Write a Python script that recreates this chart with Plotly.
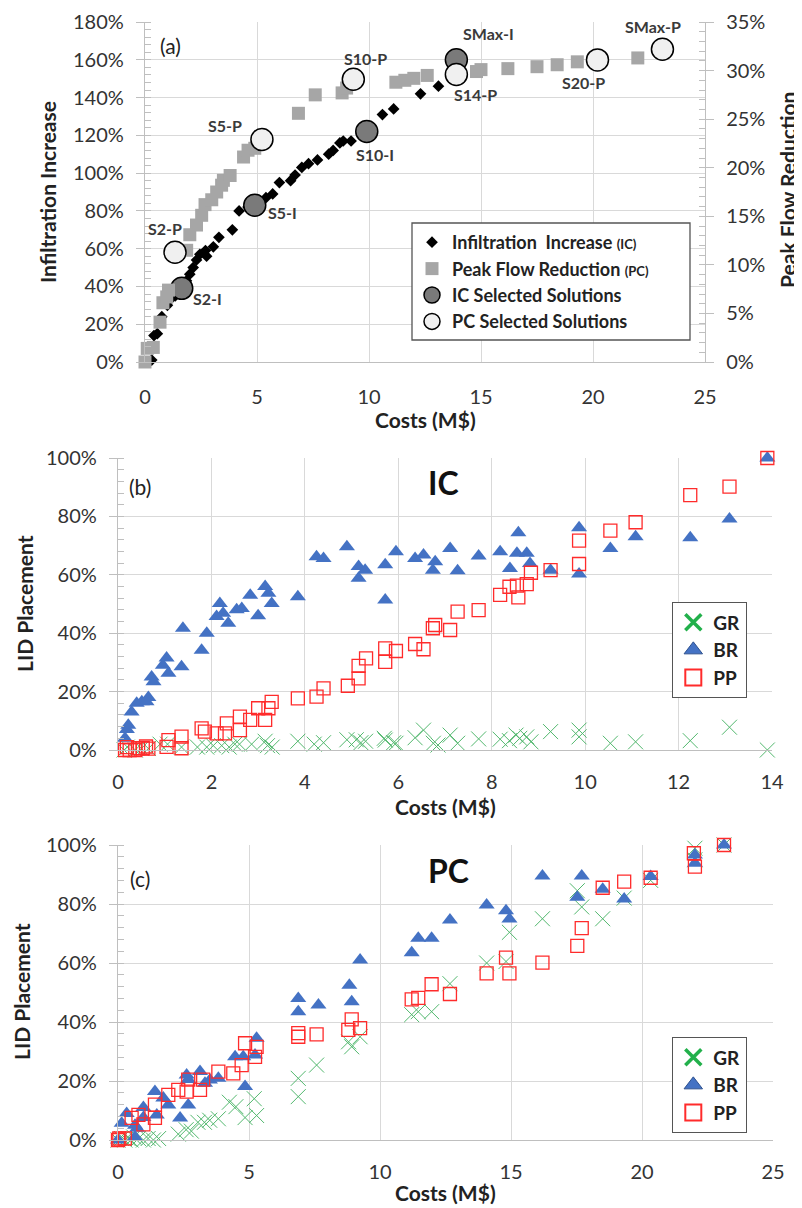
import plotly.graph_objects as go

# page body has an 8px margin: draw into the remaining area
OFF = 8
W, H = 802, 1208
FW, FH = W - OFF, H - OFF

# ---------------- Panel (a) data ----------------
ic_cost = [0.3, 0.4, 0.55, 0.75, 1.0, 1.2, 1.35, 1.7, 1.85, 2.0, 2.15, 2.3, 2.45, 2.7, 2.75, 3.05, 3.3,
           3.9, 4.2, 4.6, 5.4, 5.7, 6.0, 6.5, 6.7, 7.0, 7.3, 7.7, 8.2, 8.4, 8.7, 8.85, 9.2, 10.6, 11.1,
           12.3, 13.1]
ic_infil = [1, 14, 15, 24, 30, 34, 35, 41, 43, 46.5, 50, 54, 57, 59, 56, 61, 66,
            70, 80, 82, 87, 89, 95, 96, 99, 103, 105, 107, 110, 112, 116, 117, 117, 131, 134,
            142, 146]
pc_cost = [0.0, 0.1, 0.37, 0.67, 0.8, 0.97, 1.05, 1.86, 2.0, 2.3, 2.53, 2.68, 2.98, 3.2, 3.42, 3.5,
           3.8, 4.4, 4.6, 4.9, 6.85, 7.6, 8.8, 9.0, 11.2, 11.6, 12.0, 12.6, 14.8, 15.0, 16.2, 17.5,
           18.4, 19.3, 22.0]
pc_peak = [0.0, 1.4, 1.5, 4.1, 6.1, 6.7, 7.4, 11.5, 13.1, 14.1, 15.1, 16.2, 16.7, 17.5, 18.2, 18.7,
           19.2, 21.1, 21.8, 22.0, 25.6, 27.5, 27.7, 28.2, 28.8, 29.0, 29.2, 29.5, 29.9, 30.1, 30.2, 30.4,
           30.6, 30.9, 31.3]
ic_sel_names = ["S2-I", "S5-I", "S10-I", "SMax-I"]
ic_sel_cost = [1.64, 4.9, 9.9, 13.9]
ic_sel_infil = [39, 83, 122, 160]
pc_sel_names = ["S2-P", "S5-P", "S10-P", "S14-P", "S20-P", "SMax-P"]
pc_sel_cost = [1.34, 5.22, 9.3, 13.9, 20.2, 23.1]
pc_sel_peak = [11.3, 22.9, 29.1, 29.6, 31.1, 32.2]

# ---------------- Panel (b) IC data ----------------
b_br_cost = [0.15, 0.19, 0.22, 0.29, 0.4, 0.51, 0.61, 0.65, 0.72, 0.76, 0.96, 1.04, 1.08, 1.36, 1.39,
             1.79, 1.9, 2.11, 2.18, 2.25, 2.36, 2.54, 2.65, 2.83, 3.0, 3.15, 3.22, 3.29, 3.85, 4.25,
             4.4, 4.9, 5.15, 5.29, 5.15, 5.72, 5.72, 5.95, 6.36, 6.54, 6.79, 6.74, 7.11, 7.27, 7.72,
             8.18, 8.39, 8.57, 8.54, 8.75, 8.82, 9.26, 9.87, 9.87, 10.54, 11.08, 12.25, 13.09, 13.9]
b_br = [4, 7, 8.5, 13, 16, 16.5, 16.5, 18, 25, 23.4, 29, 31.5, 26.3, 28.5, 41.7,
        34.2, 40, 45.7, 50.2, 46.8, 43.4, 48, 48.5, 53, 46, 56, 53.7, 50.2, 52.5, 66.2,
        65.6, 69.6, 62.8, 61.6, 58.8, 63.4, 51.4, 67.9, 65.6, 66.8, 64.5, 61.6, 69, 61.4, 66.4,
        67.9, 62.2, 74.4, 67.4, 67.4, 63.9, 61.6, 76.1, 60.3, 69, 73, 72.7, 79.1, 100]
b_pp_cost = [0.15, 0.19, 0.25, 0.37, 0.43, 0.53, 0.6, 0.65, 1.04, 1.08, 1.36, 1.36, 1.79, 1.86, 2.11,
             2.29, 2.33, 2.61, 2.61, 2.83, 3.0, 3.15, 3.22, 3.29, 3.85, 4.25, 4.4, 4.92, 5.15, 5.15,
             5.31, 5.72, 5.72, 5.95, 6.36, 6.54, 6.74, 6.79, 7.11, 7.27, 7.72, 8.18, 8.38, 8.54, 8.57,
             8.75, 8.84, 9.26, 9.87, 9.87, 10.54, 11.08, 12.25, 13.09, 13.9]
b_pp = [0, 1, 0, 0, 0.6, 0.6, 1.2, 0.5, 1.1, 3.4, 4.6, 0.6, 7.4, 6.3, 5.7,
        5.7, 9.1, 11.4, 6.8, 10.3, 14.3, 10.3, 14.3, 16.5, 17.7, 18.3, 21.1, 22, 24.5, 28.8,
        31.4, 30.2, 34.8, 33.9, 36.3, 34.5, 41.7, 42.8, 41.1, 47.4, 47.9, 53.1, 55.9, 56.3, 52.3,
        56.8, 60.7, 61.6, 71.7, 63.7, 75.1, 78, 87.3, 90.2, 100]
b_gr_cost = [0.13, 0.2, 0.37, 0.5, 0.65, 0.9, 1.06, 1.36, 1.7, 1.9, 2.04, 2.22, 2.38, 2.5, 2.6, 2.86,
             3.15, 3.2, 3.3, 3.85, 4.2, 4.4, 4.9, 5.1, 5.2, 5.3, 5.7, 5.9, 5.72, 5.95, 6.36, 6.54,
             6.75, 6.85, 7.11, 7.27, 7.72, 8.18, 8.38, 8.52, 8.6, 8.75, 8.84, 9.26, 9.87, 9.87, 10.54,
             11.08, 12.25, 13.09, 13.9]
b_gr = [0, 1, 0, 0.5, 0.5, 2, 2, 1, 1, 1, 1.5, 1.5, 1, 2, 2, 2,
        3, 1.5, 1, 3, 2, 2.5, 3.5, 3.5, 2.5, 3, 4, 2.5, 3.4, 2.3, 4.2, 6.8,
        2.3, 1.7, 5.1, 2.3, 3.8, 3.7, 3.2, 5.1, 4, 4.5, 2.8, 6.3, 6.8, 4.5, 2.3,
        2.8, 3.2, 7.8, 0]

# ---------------- Panel (c) PC data ----------------
c_br_cost = [0, 0.14, 0.33, 0.65, 0.65, 0.97, 0.97, 0.73, 1.41, 1.48, 1.73, 1.92, 2.37, 2.62, 2.68,
             2.68, 3.13, 3.32, 3.51, 3.83, 4.47, 4.78, 4.85, 5.23, 5.29, 6.88, 6.88, 7.65, 8.83, 8.92,
             9.24, 11.21, 11.46, 11.97, 12.67, 14.07, 14.81, 14.94, 16.2, 17.53, 17.7, 18.5, 19.32,
             20.33, 22.02, 22.02, 23.13]
c_br = [0, 5.7, 9, 5, 1, 11, 7.6, 4, 16.4, 8.5, 14.2, 11.9, 7.5, 22, 20.5,
        11.9, 23.2, 19.2, 20.3, 20.9, 28.2, 28.2, 18.1, 28.8, 34.5, 48, 43.5, 45.8, 52.5, 46.9,
        61, 63.5, 68.4, 68.4, 74.6, 79.7, 77.7, 74.9, 89.5, 82.3, 89.5, 85, 81.7,
        89.3, 96.6, 93.8, 100]
c_pp_cost = [0, 0.05, 0.26, 0.52, 0.78, 0.97, 1.41, 1.41, 1.92, 2.3, 2.62, 2.68, 3.13, 3.25, 3.83,
             4.4, 4.72, 4.85, 5.23, 5.29, 6.88, 6.88, 7.58, 8.79, 8.92, 9.24, 11.21, 11.46, 11.97,
             12.67, 14.07, 14.81, 14.94, 16.2, 17.53, 17.7, 18.5, 19.32, 20.33, 21.98, 22.02, 23.13]
c_pp = [0, 0.5, 0.5, 7.5, 8.5, 5.3, 7.5, 12, 15.3, 17, 16.4, 20.5, 17, 20.5, 23.2,
        22.6, 25.4, 32.8, 28.2, 31.6, 36.2, 35, 35.8, 37.3, 40.9, 37.9, 47.7, 48.2, 52.8,
        49.5, 56.5, 61.8, 56.5, 60.1, 65.8, 71.8, 85.5, 87.6, 88.9, 97.2, 92.7, 100]
c_gr_cost = [0, 0.13, 0.26, 0.39, 0.5, 0.6, 0.78, 0.97, 1.15, 1.35, 1.55, 2.3, 2.6, 2.8, 3.05, 3.3,
             3.5, 3.83, 4.25, 4.5, 4.85, 5.2, 5.29, 6.88, 6.88, 7.58, 8.8, 8.92, 9.24, 11.21, 11.46,
             11.97, 12.67, 14.07, 14.81, 14.94, 16.2, 17.53, 17.7, 18.5, 19.32, 20.33, 22.02, 22.02,
             23.13]
c_gr = [0, 0.5, 0, 0.5, 0, 1, 0.5, 0, 0.5, 0, 0.5, 2, 3.5, 3, 6, 6,
        6.7, 7.2, 12.8, 11.3, 7.6, 14, 8.3, 20.9, 14.7, 25.4, 33.3, 31.6, 35, 42.5, 43.5,
        43.5, 53, 60, 60.5, 70.4, 75, 84.5, 79, 75, 82, 88, 98.9, 95,
        100]

# ---------------- styling ----------------
FONT = "Lato"
TXT = "#333333"
GRID = "#d9d9d9"
AXL = "#bfbfbf"
GREEN = "#52b86e"
BLUE = "#4472c4"
RED = "#ff2b2b"

fig = go.Figure()

# Panel (a)
fig.add_trace(go.Scatter(x=ic_cost, y=ic_infil, mode="markers", xaxis="x", yaxis="y",
                         name="Infiltration  Increase <span style='font-size:13px'>(IC)</span>",
                         marker=dict(symbol="diamond", size=9, color="black"),
                         cliponaxis=False, legend="legend"))
fig.add_trace(go.Scatter(x=pc_cost, y=pc_peak, mode="markers", xaxis="x", yaxis="y2",
                         name="Peak Flow Reduction <span style='font-size:13px'>(PC)</span>",
                         marker=dict(symbol="square", size=13, color="#a6a6a6"),
                         cliponaxis=False, legend="legend"))
fig.add_trace(go.Scatter(x=ic_sel_cost, y=ic_sel_infil, mode="markers", xaxis="x", yaxis="y",
                         name="IC Selected Solutions",
                         marker=dict(symbol="circle", size=22, color="#7a7a7a",
                                     line=dict(color="black", width=1.5)),
                         cliponaxis=False, legend="legend"))
fig.add_trace(go.Scatter(x=pc_sel_cost, y=pc_sel_peak, mode="markers", xaxis="x", yaxis="y2",
                         name="PC Selected Solutions",
                         marker=dict(symbol="circle", size=22, color="#f0f0f0",
                                     line=dict(color="black", width=1.5)),
                         cliponaxis=False, legend="legend"))


def lid_traces(xa, ya, leg, gx, gy, bx, by, px, py):
    fig.add_trace(go.Scatter(x=gx, y=gy, mode="markers", xaxis=xa, yaxis=ya, showlegend=False,
                             marker=dict(symbol="x-thin-open", size=15, color=GREEN,
                                         line=dict(color=GREEN, width=1)), cliponaxis=False))
    fig.add_trace(go.Scatter(x=bx, y=by, mode="markers", xaxis=xa, yaxis=ya, showlegend=False,
                             marker=dict(symbol="triangle-up", size=14, color=BLUE), cliponaxis=False))
    fig.add_trace(go.Scatter(x=px, y=py, mode="markers", xaxis=xa, yaxis=ya, showlegend=False,
                             marker=dict(symbol="square-open", size=13, color=RED,
                                         line=dict(color=RED, width=1.3)), cliponaxis=False))
    # legend entries
    fig.add_trace(go.Scatter(x=[None], y=[None], mode="markers", xaxis=xa, yaxis=ya, name="GR",
                             legend=leg, marker=dict(symbol="x-thin-open", size=16, color="#22b04b",
                                                     line=dict(color="#22b04b", width=3.5))))
    fig.add_trace(go.Scatter(x=[None], y=[None], mode="markers", xaxis=xa, yaxis=ya, name="BR",
                             legend=leg, marker=dict(symbol="triangle-up", size=18, color=BLUE,
                                                     line=dict(color="#2f528f", width=1))))
    fig.add_trace(go.Scatter(x=[None], y=[None], mode="markers", xaxis=xa, yaxis=ya, name="PP",
                             legend=leg, marker=dict(symbol="square-open", size=16, color=RED,
                                                     line=dict(color=RED, width=2))))


lid_traces("x2", "y3", "legend2", b_gr_cost, b_gr, b_br_cost, b_br, b_pp_cost, b_pp)
lid_traces("x3", "y4", "legend3", c_gr_cost, c_gr, c_br_cost, c_br, c_pp_cost, c_pp)


def px2x(p):
    return (p - OFF) / FW


def px2y(p):
    return 1 - (p - OFF) / FH


tickfont = dict(family=FONT, size=20, color=TXT)

common_x = dict(showgrid=True, gridcolor=GRID, gridwidth=1.3, showline=True, linecolor=AXL,
                linewidth=1.3, zeroline=False, ticks="", tickfont=tickfont, ticklabelstandoff=14,
                automargin=False)
common_y = dict(showgrid=True, gridcolor=GRID, gridwidth=1.3, showline=True, linecolor=AXL,
                linewidth=1.3, zeroline=False, ticks="outside", ticklen=8, tickcolor=AXL,
                tickwidth=1.3, tickfont=tickfont, ticksuffix="%", ticklabelstandoff=8,
                automargin=False)

layout = dict(
    template="none",
    width=FW, height=FH, margin=dict(l=0, r=0, t=0, b=0, pad=0, autoexpand=False),
    paper_bgcolor="white", plot_bgcolor="white",
    font=dict(family=FONT, color=TXT),
    xaxis=dict(common_x, domain=[px2x(145), px2x(705)], range=[0, 25], dtick=5, anchor="y",
               ticklabelstandoff=17),
    yaxis=dict(common_y, domain=[px2y(362), px2y(22)], range=[0, 180], dtick=20, anchor="x",
               minor=dict(dtick=4, ticks="inside", ticklen=6, tickcolor=AXL, showgrid=False)),
    yaxis2=dict(common_y, showgrid=False, range=[0, 35], dtick=5, overlaying="y", side="right",
                anchor="x",
                minor=dict(dtick=1, ticks="inside", ticklen=6, tickcolor=AXL, showgrid=False)),
    xaxis2=dict(common_x, domain=[px2x(118), px2x(772)], range=[0, 14], dtick=2, anchor="y3"),
    yaxis3=dict(common_y, domain=[px2y(750), px2y(458)], range=[0, 100], dtick=20, anchor="x2",
                minor=dict(dtick=4, ticks="inside", ticklen=6, tickcolor=AXL, showgrid=False)),
    xaxis3=dict(common_x, domain=[px2x(118), px2x(773)], range=[0, 25], dtick=5, anchor="y4"),
    yaxis4=dict(common_y, domain=[px2y(1140), px2y(845)], range=[0, 100], dtick=20, anchor="x3",
                minor=dict(dtick=4, ticks="inside", ticklen=6, tickcolor=AXL, showgrid=False)),
    legend=dict(x=px2x(412), y=px2y(224), xanchor="left", yanchor="top",
                bgcolor="rgba(0,0,0,0)", borderwidth=0,
                font=dict(family=FONT, size=18, color="#222", weight=700), tracegroupgap=0),
    legend2=dict(x=px2x(672), y=px2y(602), xanchor="left", yanchor="top", bgcolor="white",
                 bordercolor="#555", borderwidth=1.3,
                 font=dict(family=FONT, size=19, color="#222", weight=700)),
    legend3=dict(x=px2x(672), y=px2y(1037), xanchor="left", yanchor="top", bgcolor="white",
                 bordercolor="#555", borderwidth=1.3,
                 font=dict(family=FONT, size=19, color="#222", weight=700)),
    shapes=[dict(type="rect", xref="paper", yref="paper", x0=px2x(412), x1=px2x(690),
                 y0=px2y(340), y1=px2y(223), fillcolor="white",
                 line=dict(color="#555", width=1.3), layer="above")],
)
fig.update_layout(**layout)

ann = []
title_font = dict(family=FONT, size=21, color="#222", weight=700)


def paper_text(text, x, y, font, angle=0):
    ann.append(dict(text=text, x=px2x(x), y=px2y(y), xref="paper", yref="paper",
                    showarrow=False, font=font, textangle=angle, xanchor="center", yanchor="middle"))


paper_text("Infiltration Increase", 47, 192, title_font, -90)
paper_text("Peak Flow Reduction", 788, 190, title_font, -90)
paper_text("Costs (M$)", 425, 420, title_font)
paper_text("LID Placement", 25, 604, title_font, -90)
paper_text("Costs (M$)", 445, 806, title_font)
paper_text("LID Placement", 22, 992, title_font, -90)
paper_text("Costs (M$)", 445, 1192, title_font)
paper_text("(a)", 170, 45, dict(family=FONT, size=21, color="#222"))
paper_text("(b)", 140, 486, dict(family=FONT, size=21, color="#222"))
paper_text("(c)", 140, 878, dict(family=FONT, size=21, color="#222"))
paper_text("IC", 443, 483, dict(family=FONT, size=32, color="#111", weight=700))
paper_text("PC", 448, 870, dict(family=FONT, size=32, color="#111", weight=700))

lab_font = dict(family=FONT, size=16, color="#3a3a3a", weight=700)
ic_off = {"S2-I": (26, -10), "S5-I": (28, -7), "S10-I": (8, -23), "SMax-I": (32, 26)}
pc_off = {"S2-P": (-10, 24), "S5-P": (-37, 14), "S10-P": (12, 21), "S14-P": (19, -20),
          "S20-P": (-14, -23), "SMax-P": (-9, 23)}
for n, cx, cy in zip(ic_sel_names, ic_sel_cost, ic_sel_infil):
    dx, dy = ic_off[n]
    ann.append(dict(text=n, x=cx, y=cy, xref="x", yref="y", showarrow=False, font=lab_font,
                    xshift=dx, yshift=dy))
for n, cx, cy in zip(pc_sel_names, pc_sel_cost, pc_sel_peak):
    dx, dy = pc_off[n]
    ann.append(dict(text=n, x=cx, y=cy, xref="x", yref="y2", showarrow=False, font=lab_font,
                    xshift=dx, yshift=dy))

fig.update_layout(annotations=ann)
fig.write_html("out.html")
